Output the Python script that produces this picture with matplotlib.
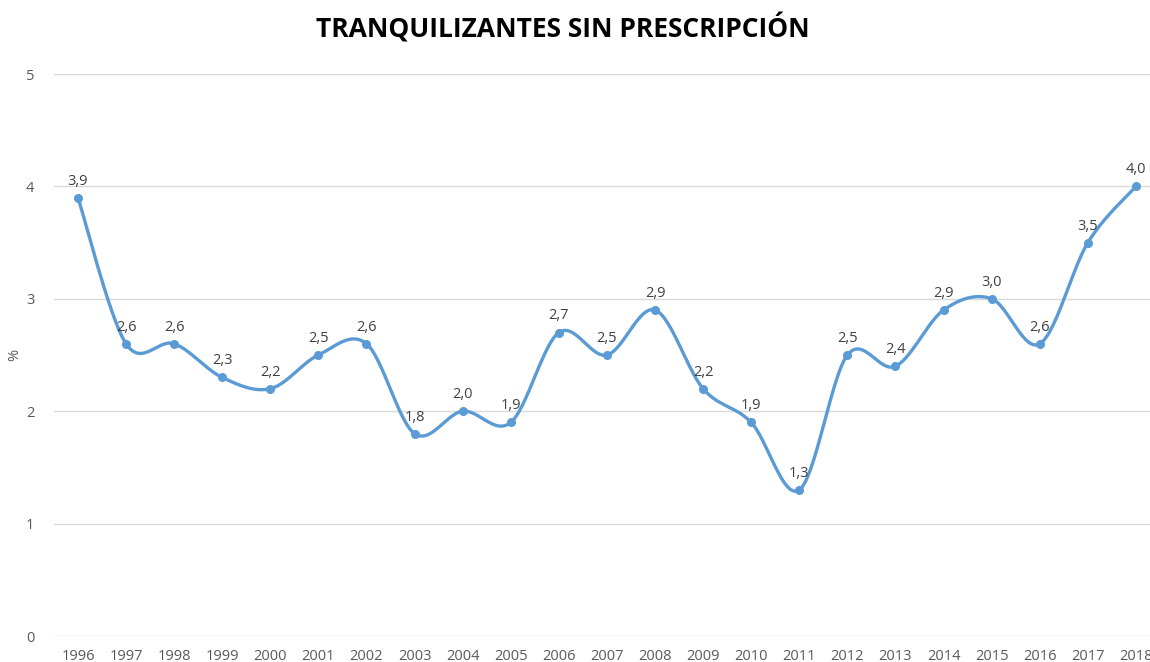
import matplotlib
matplotlib.use("Agg")
import matplotlib.pyplot as plt
import numpy as np

years = [str(y) for y in range(1996, 2019)]
values = [3.9, 2.6, 2.6, 2.3, 2.2, 2.5, 2.6, 1.8, 2.0, 1.9, 2.7, 2.5, 2.9,
          2.2, 1.9, 1.3, 2.5, 2.4, 2.9, 3.0, 2.6, 3.5, 4.0]
y_ticks = [0, 1, 2, 3, 4, 5]

line_color = '#5B9BD5'
text_color = '#595959'
plt.rcParams['font.family'] = ['Open Sans', 'DejaVu Sans']


def smooth(xs, ys, steps=30):
    """Excel-like smoothed line (Catmull-Rom through the points)"""
    xs = np.asarray(xs, dtype=float)
    ys = np.asarray(ys, dtype=float)
    px = np.concatenate([[xs[0]], xs, [xs[-1]]])
    py = np.concatenate([[ys[0]], ys, [ys[-1]]])
    out_x, out_y = [], []
    t = np.linspace(0, 1, steps)
    for i in range(1, len(px) - 2):
        p0, p3 = np.array([px[i], py[i]]), np.array([px[i + 1], py[i + 1]])
        c1 = p0 + (np.array([px[i + 1], py[i + 1]]) - np.array([px[i - 1], py[i - 1]])) / 6
        c2 = p3 - (np.array([px[i + 2], py[i + 2]]) - np.array([px[i], py[i]])) / 6
        b = ((1 - t) ** 3)[:, None] * p0 + (3 * (1 - t) ** 2 * t)[:, None] * c1 \
            + (3 * (1 - t) * t ** 2)[:, None] * c2 + (t ** 3)[:, None] * p3
        out_x.extend(b[:, 0])
        out_y.extend(b[:, 1])
    return out_x, out_y


fig = plt.figure(figsize=(11.5, 6.62), dpi=100)
ax = fig.add_axes([53.9 / 1150, 26 / 662, (1160 - 53.9) / 1150, (636 - 74) / 662])

x = np.arange(len(years))
sx, sy = smooth(x, values)
ax.plot(sx, sy, color=line_color, linewidth=2.4, solid_capstyle='round', zorder=3)
ax.plot(x, values, 'o', color=line_color, markersize=5.5, zorder=4)

for xi, v in zip(x, values):
    ax.annotate(f"{v:.1f}".replace('.', ','), (xi, v), xytext=(0, 6.5),
                textcoords='offset points', ha='center', va='bottom',
                fontsize=10.5, color='#404040')

ax.set_xlim(-0.5, len(years) - 0.5)
ax.set_ylim(0, 5)
ax.set_xticks(x)
ax.set_xticklabels(years)
ax.set_yticks(y_ticks)
ax.tick_params(axis='both', length=0, labelsize=10.5, labelcolor=text_color)
ax.tick_params(axis='x', pad=9)
ax.tick_params(axis='y', pad=14)
ax.grid(axis='y', color='#D9D9D9', linewidth=1)
ax.set_axisbelow(True)
for s in ax.spines.values():
    s.set_visible(False)

fig.text(15 / 1150, 1 - 355 / 662, '%', rotation=90, ha='center', va='center',
         fontsize=10.5, color=text_color)
fig.text(563 / 1150, 1 - 28 / 662, 'TRANQUILIZANTES SIN PRESCRIPCIÓN',
         ha='center', va='center', fontsize=19, fontweight='bold', color='black')

fig.savefig('out.png', dpi=100)
